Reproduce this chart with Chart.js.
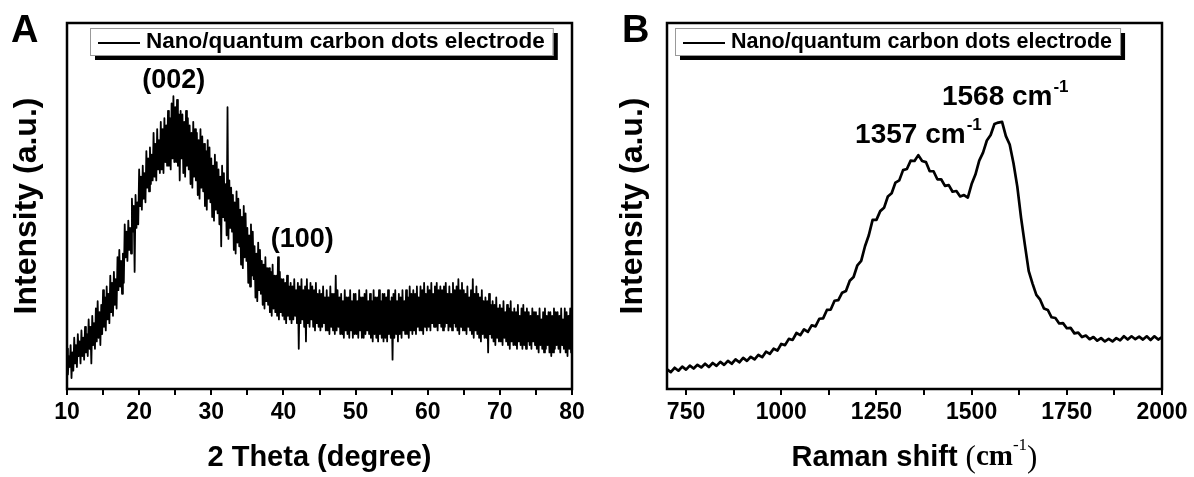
<!DOCTYPE html>
<html lang="en">
<head>
<meta charset="UTF-8">
<title>XRD and Raman of carbon dots electrode</title>
<style>
  body { margin: 0; background: #fff; }
  #wrap { position: relative; width: 1194px; height: 477px; }
  canvas { position: absolute; top: 0; }
  #xrd { left: 0; }
  #raman { left: 597px; }
</style>
</head>
<body>
<div id="wrap">
  <canvas id="xrd" width="597" height="477"></canvas>
  <canvas id="raman" width="597" height="477"></canvas>
</div>
<script src="https://cdn.jsdelivr.net/npm/chart.js@4.4.1/dist/chart.umd.min.js"></script>
<script>
// ---- data (intensity in arbitrary units, 0..100) ----
const seriesName = 'Nano/quantum carbon dots electrode';

// XRD, 2 theta from 10 to 80 in 0.125 deg steps (one row of eight per degree)
const xrdIntensity = [
  11, 4, 9, 6, 12, 3, 10, 5,
  14, 7, 12, 6, 15, 9, 13, 7,
  16, 9, 14, 8, 17, 10, 15, 9,
  19, 11, 17, 7, 20, 12, 18, 11,
  22, 13, 24, 14, 21, 12, 23, 15,
  27, 17, 25, 16, 28, 19, 26, 18,
  31, 21, 29, 20, 32, 23, 30, 22,
  36, 27, 38, 28, 35, 26, 37, 29,
  45, 36, 43, 35, 46, 38, 44, 37,
  52, 43, 50, 32, 53, 44, 51, 45,
  60, 50, 58, 49, 61, 52, 59, 51,
  65, 55, 63, 54, 66, 56, 64, 57,
  70, 58, 67, 57, 71, 60, 68, 59,
  73, 60, 71, 59, 74, 62, 72, 61,
  76, 61, 74, 60, 78, 63, 80, 62,
  77, 62, 79, 61, 75, 57, 76, 63,
  75, 59, 73, 58, 76, 61, 74, 60,
  72, 56, 70, 55, 73, 58, 71, 57,
  70, 53, 68, 52, 71, 55, 69, 54,
  67, 50, 65, 49, 68, 52, 66, 51,
  63, 47, 61, 46, 64, 49, 62, 48,
  60, 45, 58, 39, 61, 47, 59, 46,
  56, 42, 77, 41, 57, 44, 55, 43,
  53, 38, 51, 37, 54, 40, 52, 39,
  49, 34, 47, 33, 50, 36, 48, 35,
  44, 29, 42, 28, 45, 31, 43, 30,
  39, 25, 37, 24, 40, 27, 38, 26,
  35, 23, 34, 22, 36, 24, 33, 23,
  33, 21, 32, 20, 34, 22, 31, 21,
  31, 20, 36, 19, 32, 21, 30, 20,
  30, 19, 29, 18, 31, 20, 28, 19,
  29, 18, 28, 19, 30, 20, 27, 18,
  29, 11, 28, 18, 30, 19, 27, 17,
  28, 13, 30, 18, 27, 17, 29, 19,
  28, 17, 27, 16, 29, 18, 26, 17,
  27, 16, 26, 17, 28, 18, 25, 16,
  27, 16, 25, 15, 28, 17, 26, 16,
  26, 15, 31, 16, 27, 17, 25, 15,
  26, 15, 24, 14, 27, 16, 25, 15,
  25, 14, 27, 16, 24, 14, 26, 15,
  26, 15, 24, 14, 27, 16, 25, 14,
  25, 14, 26, 15, 27, 16, 24, 15,
  26, 14, 24, 13, 27, 15, 25, 14,
  25, 13, 27, 15, 24, 14, 26, 13,
  26, 14, 25, 13, 27, 15, 24, 14,
  25, 8, 26, 14, 27, 15, 24, 13,
  26, 15, 25, 14, 27, 16, 24, 15,
  27, 15, 25, 14, 28, 16, 26, 15,
  27, 16, 26, 15, 28, 17, 25, 16,
  28, 16, 27, 15, 29, 17, 26, 16,
  28, 17, 27, 16, 29, 18, 26, 17,
  28, 17, 29, 16, 27, 18, 28, 17,
  27, 16, 28, 17, 29, 18, 26, 16,
  28, 17, 26, 16, 29, 18, 27, 17,
  28, 16, 30, 15, 27, 17, 29, 16,
  27, 16, 26, 15, 28, 17, 25, 16,
  27, 15, 30, 14, 26, 16, 28, 15,
  26, 14, 25, 13, 27, 15, 24, 14,
  25, 14, 24, 10, 26, 15, 23, 14,
  24, 13, 23, 12, 25, 14, 22, 13,
  23, 13, 22, 12, 24, 14, 21, 13,
  23, 12, 22, 11, 24, 13, 21, 12,
  22, 12, 21, 11, 23, 13, 20, 12,
  22, 11, 23, 12, 21, 11, 22, 13,
  21, 12, 20, 11, 22, 13, 21, 12,
  21, 11, 20, 10, 22, 12, 19, 11,
  21, 10, 22, 11, 20, 12, 21, 10,
  21, 9, 20, 10, 22, 11, 21, 12,
  21, 11, 20, 10, 22, 12, 19, 11,
  22, 10, 21, 9, 20, 11, 22, 10,
  12
];
const xrdTheta = xrdIntensity.map((_, i) => 10 + i * 0.125);
const xrdTicks = [10, 15, 20, 25, 30, 35, 40, 45, 50, 55, 60, 65, 70, 75, 80];
const xrdTickLabels = [10, 20, 30, 40, 50, 60, 70, 80];

// Raman, 700 to 2000 cm-1 in 10 cm-1 steps
const ramanIntensity = [
  5.4, 4.6, 5.8, 5.0, 6.1, 5.3, 6.4, 5.6, 6.6, 5.9,
  6.9, 6.0, 7.1, 6.3, 7.4, 6.6, 7.7, 6.9, 8.1, 7.3,
  8.5, 7.7, 8.8, 8.1, 9.3, 8.7, 10.2, 9.6, 11.0, 10.5,
  12.3, 12.0, 13.7, 13.4, 15.3, 14.7, 16.3, 15.6, 17.4, 17.1,
  19.2, 19.3, 21.6, 21.7, 24.1, 24.3, 26.3, 26.8, 29.6, 30.6,
  33.8, 35.0, 39.0, 42.0, 46.2, 46.2, 48.6, 49.5, 52.6, 53.5,
  56.4, 57.0, 59.8, 60.1, 62.4, 62.3, 63.9, 62.3, 62.0, 59.5,
  59.5, 57.3, 57.3, 55.5, 55.7, 53.9, 54.1, 52.6, 53.0, 52.3,
  56.0, 58.6, 62.4, 64.6, 67.9, 69.4, 72.4, 72.8, 73.0, 69.1,
  66.8, 61.7, 55.3, 46.7, 39.3, 32.2, 28.8, 25.7, 24.4, 22.0,
  21.6, 19.6, 19.4, 17.9, 18.0, 16.6, 16.7, 15.2, 15.4, 14.2,
  14.6, 13.6, 14.2, 13.2, 13.9, 13.0, 13.7, 13.0, 13.9, 13.3,
  14.4, 13.5, 14.4, 13.6, 14.3, 13.5, 14.4, 13.4, 14.4, 13.5,
  14.2
];
const ramanShift = ramanIntensity.map((_, i) => 700 + i * 10);
const ramanTicks = [750, 875, 1000, 1125, 1250, 1375, 1500, 1625, 1750, 1875, 2000];
const ramanTickLabels = [750, 1000, 1250, 1500, 1750, 2000];

const SANS = '"Liberation Sans", Arial, sans-serif';
const SERIF = '"Liberation Serif", "Times New Roman", serif';

// frame, panel letter, axis titles, legend and peak labels
function decor(cfg) {
  return {
    id: 'decor',
    afterDraw(chart) {
      const ctx = chart.ctx, a = chart.chartArea;
      const sx = chart.scales.x, sy = chart.scales.y;
      ctx.save();
      ctx.strokeStyle = '#000';
      ctx.lineWidth = 2.5;
      ctx.strokeRect(a.left, a.top, a.right - a.left, a.bottom - a.top);
      ctx.fillStyle = '#000';

      ctx.font = 'bold 38px ' + SANS;
      ctx.textBaseline = 'alphabetic';
      ctx.fillText(cfg.letter, cfg.letterX, 42);

      ctx.save();
      ctx.translate(cfg.yTitleX, (a.top + a.bottom) / 2);
      ctx.rotate(-Math.PI / 2);
      ctx.textAlign = 'center';
      ctx.textBaseline = 'middle';
      ctx.font = 'bold 32px ' + SANS;
      ctx.fillText('Intensity (a.u.)', 0, 0);
      ctx.restore();

      cfg.xTitle(ctx, (a.left + a.right) / 2, 458);

      // legend with drop shadow
      const lg = cfg.legend;
      ctx.font = 'bold ' + lg.size + 'px ' + SANS;
      const tw = ctx.measureText(seriesName).width;
      const w = 56 + tw + 8, h = 27;
      ctx.fillStyle = '#000';
      ctx.fillRect(lg.x + 5, lg.y + 5, w, h);
      ctx.fillStyle = '#fff';
      ctx.fillRect(lg.x, lg.y, w, h);
      ctx.strokeStyle = '#999';
      ctx.lineWidth = 1;
      ctx.strokeRect(lg.x + 0.5, lg.y + 0.5, w, h);
      ctx.strokeStyle = '#000';
      ctx.lineWidth = 2;
      ctx.beginPath();
      ctx.moveTo(lg.x + 8, lg.y + 15);
      ctx.lineTo(lg.x + 50, lg.y + 15);
      ctx.stroke();
      ctx.fillStyle = '#000';
      ctx.textBaseline = 'middle';
      ctx.textAlign = 'left';
      ctx.fillText(seriesName, lg.x + 56, lg.y + 14);

      cfg.notes.forEach(n => {
        const px = sx.getPixelForValue(n.x), py = sy.getPixelForValue(n.y);
        ctx.font = 'bold ' + n.size + 'px ' + SANS;
        ctx.textBaseline = 'middle';
        ctx.textAlign = n.sup ? 'left' : 'center';
        ctx.fillText(n.text, px, py);
        if (n.sup) {
          const tw2 = ctx.measureText(n.text).width;
          ctx.font = 'bold 17px ' + SANS;
          ctx.fillText(n.sup, px + tw2 + 1, py - 10);
        }
      });
      ctx.restore();
    }
  };
}

function makeChart(id, xs, ys, ticks, labels, range, pad, lineW, cfg) {
  return new Chart(document.getElementById(id), {
    type: 'line',
    data: {
      datasets: [{
        label: seriesName,
        data: xs.map((x, i) => ({ x: x, y: ys[i] })),
        borderColor: '#000',
        borderWidth: lineW,
        borderJoinStyle: 'round',
        pointRadius: 0,
        tension: 0
      }]
    },
    options: {
      responsive: false,
      animation: false,
      layout: { padding: pad },
      plugins: { legend: { display: false }, tooltip: { enabled: false } },
      scales: {
        x: {
          type: 'linear',
          min: range[0],
          max: range[1],
          afterBuildTicks: s => { s.ticks = ticks.map(v => ({ value: v })); },
          afterFit: s => { s.height = 88; },
          ticks: {
            autoSkip: false,
            maxRotation: 0,
            padding: 4,
            color: '#000',
            font: { family: SANS, weight: 'bold', size: 23 },
            callback: v => labels.includes(v) ? String(v) : ''
          },
          grid: { drawOnChartArea: false, drawTicks: true, tickLength: 6, color: '#000', lineWidth: 2 },
          border: { display: false }
        },
        y: { display: false, min: 0, max: 100 }
      }
    },
    plugins: [decor(cfg)]
  });
}

makeChart('xrd', xrdTheta, xrdIntensity, xrdTicks, xrdTickLabels, [10, 80],
  { left: 67, right: 25, top: 23, bottom: 0 }, 1.8, {
    letter: 'A', letterX: 11, yTitleX: 27,
    legend: { x: 90, y: 28, size: 22.5 },
    xTitle: (ctx, cx, cy) => {
      ctx.font = 'bold 29px ' + SANS;
      ctx.textAlign = 'center';
      ctx.textBaseline = 'middle';
      ctx.fillText('2 Theta (degree)', cx, cy);
    },
    notes: [
      { text: '(002)', x: 24.8, y: 84.4, size: 27 },
      { text: '(100)', x: 42.6, y: 40.7, size: 27 }
    ]
  });

makeChart('raman', ramanShift, ramanIntensity, ramanTicks, ramanTickLabels, [700, 2000],
  { left: 70, right: 32, top: 23, bottom: 0 }, 2.7, {
    letter: 'B', letterX: 25, yTitleX: 36,
    legend: { x: 78, y: 28, size: 21.5 },
    xTitle: (ctx, cx, cy) => {
      const a = 'Raman shift ', b = '(', c = 'cm', d = '-1', e = ')';
      ctx.textBaseline = 'middle';
      ctx.textAlign = 'left';
      const fA = 'bold 29px ' + SANS, fB = '31px ' + SERIF, fC = 'bold 29px ' + SERIF, fD = '17px ' + SERIF;
      ctx.font = fA; const wa = ctx.measureText(a).width;
      ctx.font = fB; const wb = ctx.measureText(b).width, we = ctx.measureText(e).width;
      ctx.font = fC; const wc = ctx.measureText(c).width;
      ctx.font = fD; const wd = ctx.measureText(d).width;
      let x = cx - (wa + wb + wc + wd + we) / 2;
      ctx.font = fA; ctx.fillText(a, x, cy); x += wa;
      ctx.font = fB; ctx.fillText(b, x, cy + 1); x += wb;
      ctx.font = fC; ctx.fillText(c, x, cy); x += wc;
      ctx.font = fD; ctx.fillText(d, x, cy - 12); x += wd;
      ctx.font = fB; ctx.fillText(e, x, cy + 1);
    },
    notes: [
      { text: '1357 cm', sup: '-1', x: 1194, y: 69.4, size: 28 },
      { text: '1568 cm', sup: '-1', x: 1422, y: 79.8, size: 28 }
    ]
  });
</script>
</body>
</html>
